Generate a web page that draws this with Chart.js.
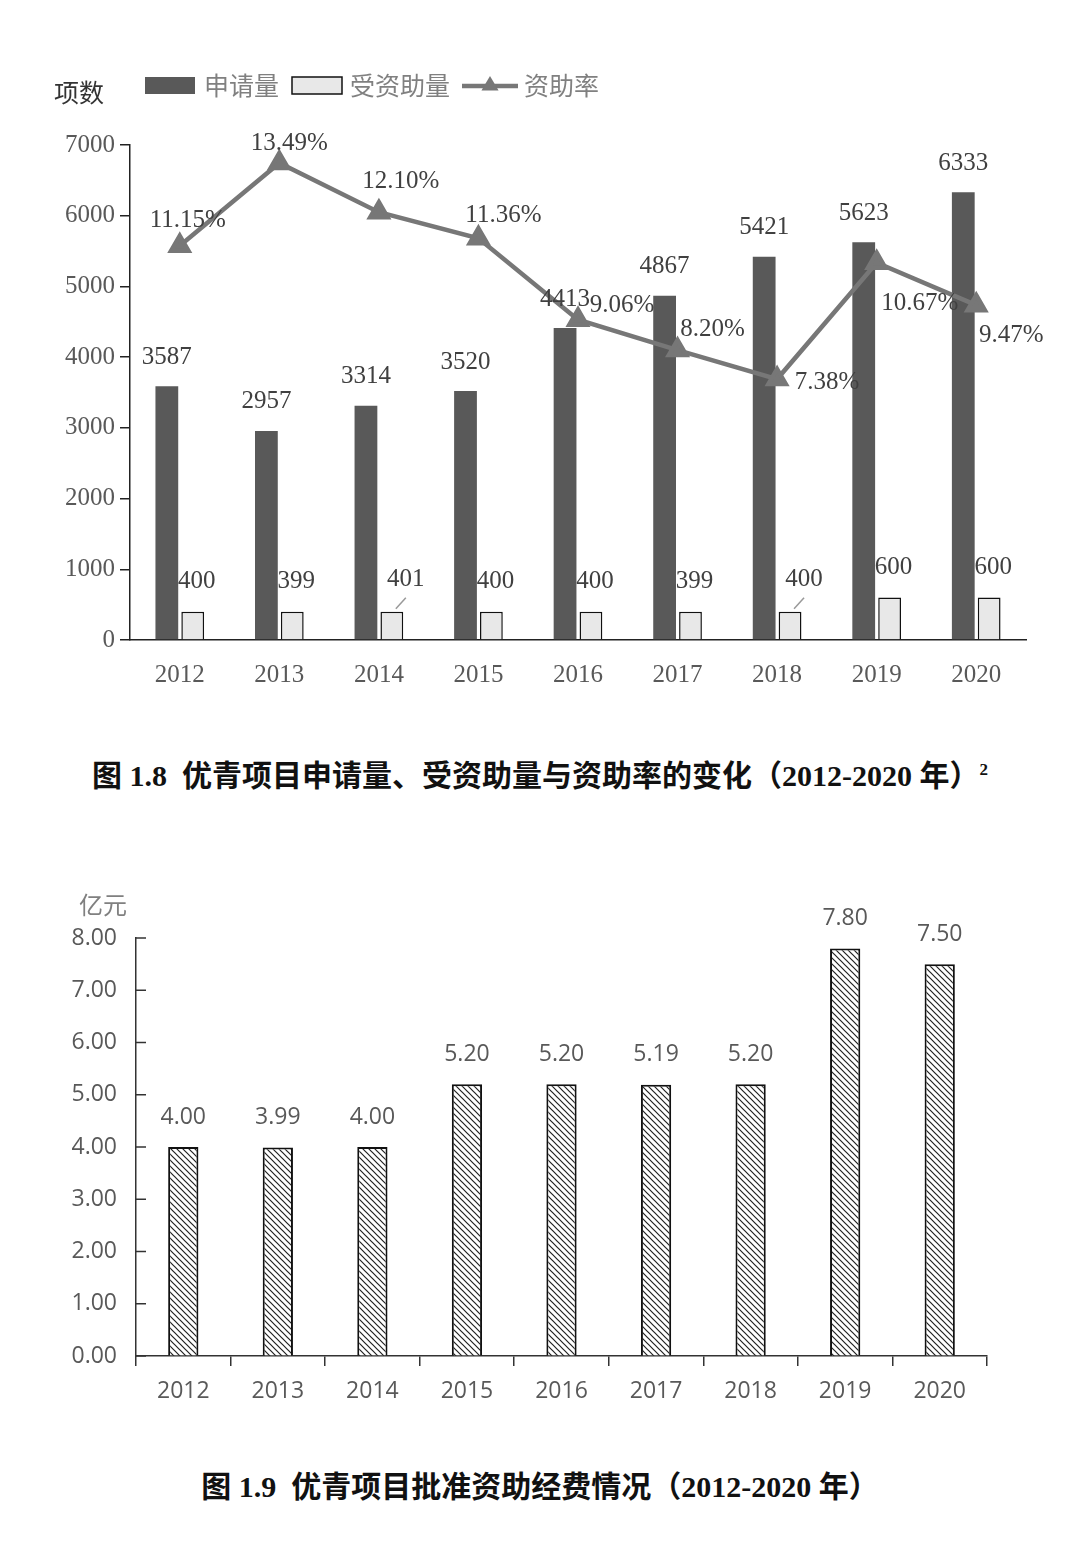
<!DOCTYPE html>
<html>
<head>
<meta charset="utf-8">
<script src="https://cdn.jsdelivr.net/npm/chart.js@4.4.1/dist/chart.umd.min.js"></script>
<style>
  body { margin: 0; background: #fff; width: 1080px; height: 1554px; position: relative; overflow: hidden; }
  #box1 { position: absolute; left: 0; top: 0; width: 1080px; height: 720px; }
  #box2 { position: absolute; left: 0; top: 870px; width: 1080px; height: 560px; }
  .cap {
    position: absolute; left: 0; width: 1080px; text-align: center; line-height: 36px;
    font-family: "Liberation Serif", "Noto Sans CJK SC", serif; font-weight: bold; font-size: 30px; color: #111;
  }
  .cap sup { font-size: 17px; vertical-align: 11px; }
</style>
</head>
<body>
<div id="box1"><canvas id="chart1"></canvas></div>
<div class="cap" style="top:752px">图 1.8&nbsp; 优青项目申请量、受资助量与资助率的变化（2012-2020 年）<sup>2</sup></div>
<div id="box2"><canvas id="chart2"></canvas></div>
<div class="cap" style="top:1469px">图 1.9&nbsp; 优青项目批准资助经费情况（2012-2020 年）</div>

<script>
const years = ["2012", "2013", "2014", "2015", "2016", "2017", "2018", "2019", "2020"];
const applications = [3587, 2957, 3314, 3520, 4413, 4867, 5421, 5623, 6333];
const funded = [400, 399, 401, 400, 400, 399, 400, 600, 600];
const fundingRate = [11.15, 13.49, 12.10, 11.36, 9.06, 8.20, 7.38, 10.67, 9.47];
const fundingAmount = [4.00, 3.99, 4.00, 5.20, 5.20, 5.19, 5.20, 7.80, 7.50];

// where each rate label sits relative to its marker
const rateLabelShift = [[8, -25], [10, -20], [22, -31], [25, -23], [44, -14], [35, -21], [50, 3], [43, 41], [35, 30]];
// funded labels that are pulled aside with a leader line
const leaderIdx = [2, 6];

const serif = "'Liberation Serif', serif";
const cjk = "'Noto Sans CJK SC', sans-serif";
const sans = "'Open Sans', sans-serif";

function triangle(c, x, y, r) {
  c.beginPath();
  c.moveTo(x, y - r);
  c.lineTo(x + r * 0.95, y + r * 0.62);
  c.lineTo(x - r * 0.95, y + r * 0.62);
  c.closePath();
  c.fill();
}

const topExtras = {
  id: "topExtras",
  afterDatasetsDraw(chart) {
    const c = chart.ctx;
    c.save();
    c.font = "25px " + serif;
    c.fillStyle = "#404040";
    c.textAlign = "center";
    c.textBaseline = "middle";

    chart.getDatasetMeta(0).data.forEach((bar, i) => {
      c.fillText(applications[i], bar.x, bar.y - 29);
    });

    chart.getDatasetMeta(1).data.forEach((bar, i) => {
      if (leaderIdx.includes(i)) {
        c.strokeStyle = "#999";
        c.lineWidth = 1.5;
        c.beginPath();
        c.moveTo(bar.x + 4, bar.y - 3);
        c.lineTo(bar.x + 14, bar.y - 14);
        c.stroke();
        c.fillText(funded[i], bar.x + 14, bar.y - 32);
      } else {
        c.fillText(funded[i], bar.x + 4, bar.y - 30);
      }
    });

    chart.getDatasetMeta(2).data.forEach((pt, i) => {
      const s = rateLabelShift[i];
      c.fillText(fundingRate[i].toFixed(2) + "%", pt.x + s[0], pt.y + s[1]);
    });
    c.restore();
  },
  afterDraw(chart) {
    const c = chart.ctx;
    c.save();
    c.textBaseline = "middle";
    c.textAlign = "left";
    c.font = "25px " + cjk;
    c.fillStyle = "#333";
    c.fillText("项数", 54, 92);

    c.fillStyle = "#595959";
    c.fillRect(145, 77, 50, 17);
    c.fillStyle = "#e8e8e8";
    c.fillRect(292, 77, 50, 17);
    c.strokeStyle = "#111";
    c.lineWidth = 1.5;
    c.strokeRect(292, 77, 50, 17);
    c.strokeStyle = "#777";
    c.lineWidth = 4.5;
    c.beginPath();
    c.moveTo(462, 86);
    c.lineTo(518, 86);
    c.stroke();
    c.fillStyle = "#777";
    triangle(c, 490, 85, 9);

    c.fillStyle = "#808080";
    c.fillText("申请量", 204, 85);
    c.fillText("受资助量", 350, 85);
    c.fillText("资助率", 524, 85);
    c.restore();
  }
};

new Chart(document.getElementById("chart1"), {
  type: "bar",
  data: {
    labels: years,
    datasets: [
      {
        label: "申请量",
        data: applications,
        backgroundColor: "#595959",
        categoryPercentage: 0.52,
        barPercentage: 0.88,
        order: 1,
      },
      {
        label: "受资助量",
        data: funded,
        backgroundColor: "#e8e8e8",
        borderColor: "#111",
        borderWidth: 1.5,
        categoryPercentage: 0.52,
        barPercentage: 0.88,
        order: 2,
      },
      {
        label: "资助率",
        type: "line",
        data: fundingRate,
        yAxisID: "y1",
        borderColor: "#777",
        backgroundColor: "#777",
        borderWidth: 4.5,
        pointStyle: "triangle",
        pointRadius: 10,
        pointHoverRadius: 10,
        order: 0,
      },
    ],
  },
  options: {
    responsive: true,
    maintainAspectRatio: false,
    animation: false,
    layout: { padding: { top: 145, right: 54, left: 0, bottom: 0 } },
    plugins: { legend: { display: false }, tooltip: { enabled: false } },
    scales: {
      x: {
        grid: { display: false, drawTicks: false },
        border: { color: "#222", width: 1.5 },
        ticks: { font: { family: serif, size: 25 }, color: "#595959", padding: 20 },
        afterFit(s) { s.height = 80; },
      },
      y: {
        min: 0,
        max: 7000,
        ticks: {
          stepSize: 1000,
          font: { family: serif, size: 25 },
          color: "#595959",
          padding: 5,
          callback: (v) => String(v),
        },
        grid: { drawOnChartArea: false, tickLength: 10, color: "#222", lineWidth: 1.5 },
        border: { color: "#222", width: 1.5 },
        afterFit(s) { s.width = 130; },
      },
      y1: { display: false, min: 0, max: 14, position: "right" },
    },
  },
  plugins: [topExtras],
});

const ctx2 = document.getElementById("chart2").getContext("2d");
function makeHatch() {
  const p = document.createElement("canvas");
  p.width = 6;
  p.height = 6;
  const g = p.getContext("2d");
  g.fillStyle = "#fff";
  g.fillRect(0, 0, 6, 6);
  g.strokeStyle = "#222";
  g.lineWidth = 1.2;
  g.beginPath();
  g.moveTo(0, 0); g.lineTo(6, 6);
  g.moveTo(-1, 5); g.lineTo(1, 7);
  g.moveTo(5, -1); g.lineTo(7, 1);
  g.stroke();
  return ctx2.createPattern(p, "repeat");
}

const bottomExtras = {
  id: "bottomExtras",
  afterDraw(chart) {
    const c = chart.ctx;
    const area = chart.chartArea;
    const ys = chart.scales.y;
    c.save();
    c.strokeStyle = "#333";
    c.lineWidth = 1.5;
    ys.ticks.forEach((t) => {
      const y = ys.getPixelForValue(t.value);
      c.beginPath();
      c.moveTo(area.left, y);
      c.lineTo(area.left + 10, y);
      c.stroke();
    });

    c.font = "23px " + sans;
    c.fillStyle = "#595959";
    c.textAlign = "center";
    c.textBaseline = "middle";
    chart.getDatasetMeta(0).data.forEach((bar, i) => {
      c.fillText(fundingAmount[i].toFixed(2), bar.x, bar.y - 30);
    });

    c.textAlign = "left";
    c.font = "24px " + cjk;
    c.fillStyle = "#808080";
    c.fillText("亿元", 79, 35);
    c.restore();
  }
};

new Chart(ctx2, {
  type: "bar",
  data: {
    labels: years,
    datasets: [
      {
        label: "经费",
        data: fundingAmount,
        backgroundColor: makeHatch(),
        borderColor: "#111",
        borderWidth: 2,
        categoryPercentage: 1,
        barPercentage: 0.32,
      },
    ],
  },
  options: {
    responsive: true,
    maintainAspectRatio: false,
    animation: false,
    layout: { padding: { top: 68, right: 93, left: 0, bottom: 0 } },
    plugins: { legend: { display: false }, tooltip: { enabled: false } },
    scales: {
      x: {
        grid: { drawOnChartArea: false, drawTicks: true, tickLength: 10, color: "#333", lineWidth: 1.5, offset: true },
        border: { color: "#333", width: 1.5 },
        ticks: { font: { family: sans, size: 23 }, color: "#595959", padding: 12 },
        afterFit(s) { s.height = 74; },
      },
      y: {
        min: 0,
        max: 8,
        ticks: {
          stepSize: 1,
          font: { family: sans, size: 23 },
          color: "#595959",
          padding: 19,
          callback: (v) => v.toFixed(2),
        },
        grid: { drawOnChartArea: false, drawTicks: false },
        border: { color: "#333", width: 1.5 },
        afterFit(s) { s.width = 136; },
      },
    },
  },
  plugins: [bottomExtras],
});
</script>
</body>
</html>
